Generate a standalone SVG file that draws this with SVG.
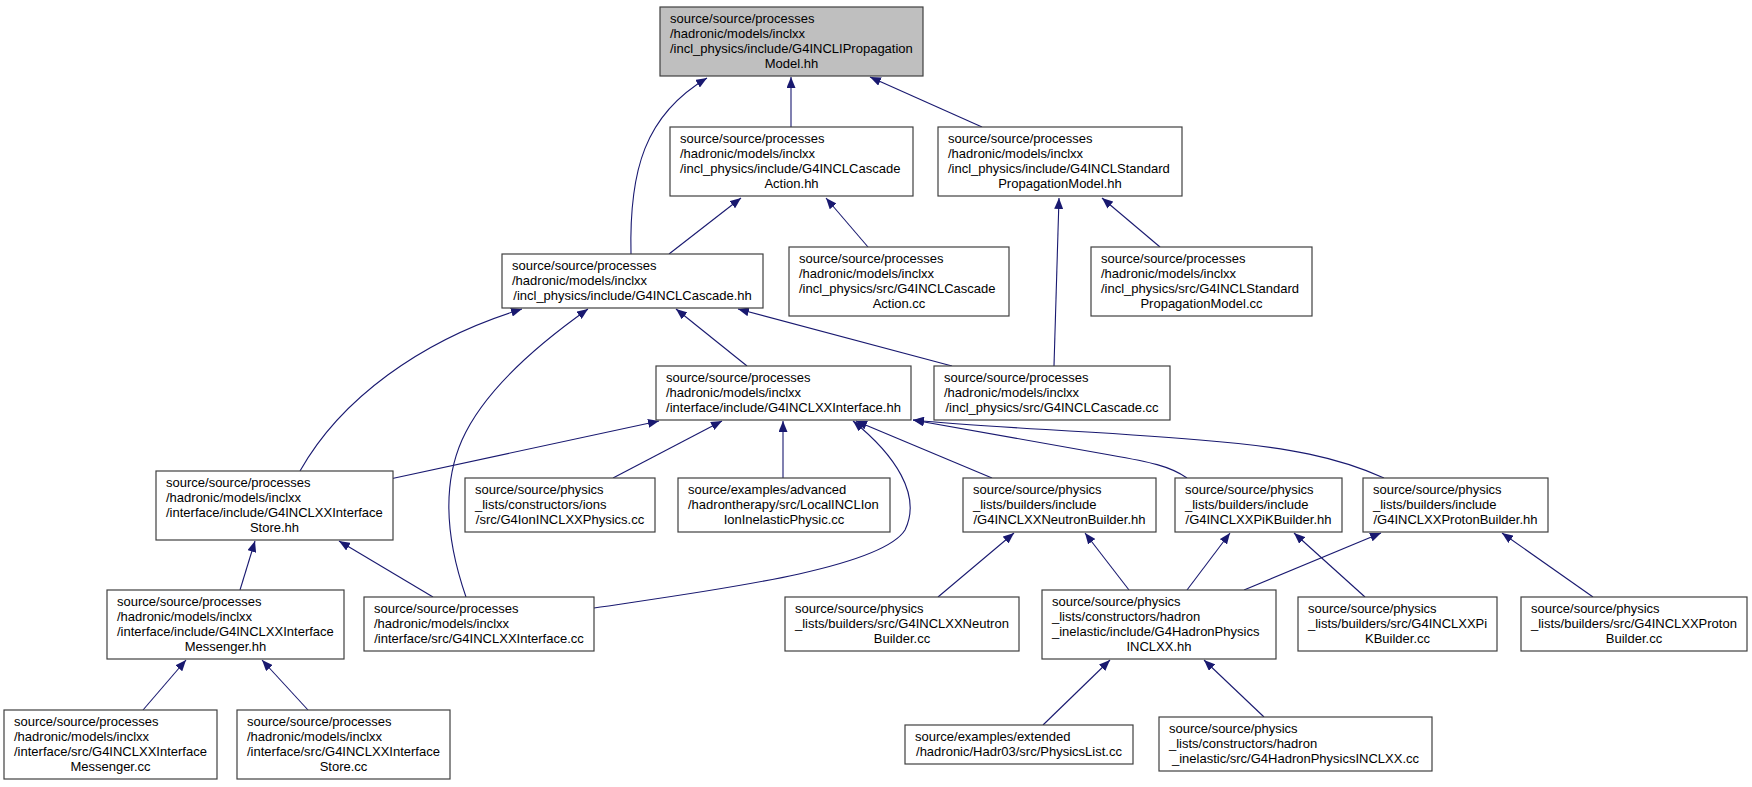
<svg xmlns="http://www.w3.org/2000/svg" width="1752" height="787" viewBox="0 0 1752 787">
<defs>
<marker id="ah" markerUnits="userSpaceOnUse" markerWidth="11" markerHeight="9" refX="11" refY="4.5" orient="auto"><path d="M0,0 L11,4.5 L0,9 z" fill="#191970"/></marker>
<style>
.n rect{fill:#ffffff;stroke:#404040;stroke-width:1.2}
.n.root rect{fill:#bfbfbf}
.n text{font-family:"Liberation Sans",Arial,sans-serif;font-size:13px;fill:#000}
.n text.c{text-anchor:middle}
#edges path{fill:none;stroke:#191970;stroke-width:1.1;marker-end:url(#ah)}
</style>
</defs>
<rect width="1752" height="787" fill="#ffffff"/>
<g id="edges">
<path d="M631,254 C629,170 645,115 707,78"/>
<path d="M791,127 L791,77"/>
<path d="M982,127 L870,77"/>
<path d="M669,254 L741,198"/>
<path d="M868,247 L826,198"/>
<path d="M1054,366 L1059,198"/>
<path d="M1160,247 L1102,198"/>
<path d="M747,366 L676,309"/>
<path d="M952,366 L738,309"/>
<path d="M300,471 C340,400 420,340 522,309"/>
<path d="M466,597 C448,545 440,490 462,440 C482,395 530,350 588,309"/>
<path d="M390,479 L659,421"/>
<path d="M613,478 L722,421"/>
<path d="M783,478 L783,421"/>
<path d="M594,608 C700,592 880,570 905,530 C922,495 895,455 853,421"/>
<path d="M992,478 L856,421"/>
<path d="M1187,478 C1170,466 1150,462 1110,455 L913,420"/>
<path d="M1384,478 C1340,458 1290,447 1200,440 C1080,430 990,428 913,420"/>
<path d="M240,590 L255,541"/>
<path d="M433,597 L339,541"/>
<path d="M938,597 L1014,533"/>
<path d="M1129,590 L1085,533"/>
<path d="M1187,590 L1230,533"/>
<path d="M1365,597 L1294,533"/>
<path d="M1244,590 L1381,533"/>
<path d="M1593,597 L1502,533"/>
<path d="M143,710 L186,660"/>
<path d="M308,710 L262,660"/>
<path d="M1043,725 L1110,660"/>
<path d="M1264,717 L1204,660"/>
</g>
<g id="n0" class="n root"><rect x="660" y="7" width="263" height="69"/>
<text x="670" y="22.5">source/source/processes</text><text x="670" y="37.5">/hadronic/models/inclxx</text><text x="670" y="52.5">/incl_physics/include/G4INCLIPropagation</text><text class="c" x="791.5" y="67.5">Model.hh</text></g>
<g id="n1" class="n"><rect x="670" y="127" width="243" height="69"/>
<text x="680" y="142.5">source/source/processes</text><text x="680" y="157.5">/hadronic/models/inclxx</text><text x="680" y="172.5">/incl_physics/include/G4INCLCascade</text><text class="c" x="791.5" y="187.5">Action.hh</text></g>
<g id="n2" class="n"><rect x="938" y="127" width="244" height="69"/>
<text x="948" y="142.5">source/source/processes</text><text x="948" y="157.5">/hadronic/models/inclxx</text><text x="948" y="172.5">/incl_physics/include/G4INCLStandard</text><text class="c" x="1060" y="187.5">PropagationModel.hh</text></g>
<g id="n3" class="n"><rect x="502" y="254" width="261" height="54"/>
<text x="512" y="269.5">source/source/processes</text><text x="512" y="284.5">/hadronic/models/inclxx</text><text class="c" x="632.5" y="299.5">/incl_physics/include/G4INCLCascade.hh</text></g>
<g id="n4" class="n"><rect x="789" y="247" width="220" height="69"/>
<text x="799" y="262.5">source/source/processes</text><text x="799" y="277.5">/hadronic/models/inclxx</text><text x="799" y="292.5">/incl_physics/src/G4INCLCascade</text><text class="c" x="899" y="307.5">Action.cc</text></g>
<g id="n5" class="n"><rect x="1091" y="247" width="221" height="69"/>
<text x="1101" y="262.5">source/source/processes</text><text x="1101" y="277.5">/hadronic/models/inclxx</text><text x="1101" y="292.5">/incl_physics/src/G4INCLStandard</text><text class="c" x="1201.5" y="307.5">PropagationModel.cc</text></g>
<g id="n6" class="n"><rect x="656" y="366" width="255" height="54"/>
<text x="666" y="381.5">source/source/processes</text><text x="666" y="396.5">/hadronic/models/inclxx</text><text class="c" x="783.5" y="411.5">/interface/include/G4INCLXXInterface.hh</text></g>
<g id="n7" class="n"><rect x="934" y="366" width="236" height="54"/>
<text x="944" y="381.5">source/source/processes</text><text x="944" y="396.5">/hadronic/models/inclxx</text><text class="c" x="1052" y="411.5">/incl_physics/src/G4INCLCascade.cc</text></g>
<g id="n8" class="n"><rect x="156" y="471" width="237" height="69"/>
<text x="166" y="486.5">source/source/processes</text><text x="166" y="501.5">/hadronic/models/inclxx</text><text x="166" y="516.5">/interface/include/G4INCLXXInterface</text><text class="c" x="274.5" y="531.5">Store.hh</text></g>
<g id="n9" class="n"><rect x="465" y="478" width="190" height="54"/>
<text x="475" y="493.5">source/source/physics</text><text x="475" y="508.5">_lists/constructors/ions</text><text class="c" x="560" y="523.5">/src/G4IonINCLXXPhysics.cc</text></g>
<g id="n10" class="n"><rect x="678" y="478" width="212" height="54"/>
<text x="688" y="493.5">source/examples/advanced</text><text x="688" y="508.5">/hadrontherapy/src/LocalINCLIon</text><text class="c" x="784" y="523.5">IonInelasticPhysic.cc</text></g>
<g id="n11" class="n"><rect x="963" y="478" width="193" height="54"/>
<text x="973" y="493.5">source/source/physics</text><text x="973" y="508.5">_lists/builders/include</text><text class="c" x="1059.5" y="523.5">/G4INCLXXNeutronBuilder.hh</text></g>
<g id="n12" class="n"><rect x="1175" y="478" width="167" height="54"/>
<text x="1185" y="493.5">source/source/physics</text><text x="1185" y="508.5">_lists/builders/include</text><text class="c" x="1258.5" y="523.5">/G4INCLXXPiKBuilder.hh</text></g>
<g id="n13" class="n"><rect x="1363" y="478" width="185" height="54"/>
<text x="1373" y="493.5">source/source/physics</text><text x="1373" y="508.5">_lists/builders/include</text><text class="c" x="1455.5" y="523.5">/G4INCLXXProtonBuilder.hh</text></g>
<g id="n14" class="n"><rect x="107" y="590" width="237" height="69"/>
<text x="117" y="605.5">source/source/processes</text><text x="117" y="620.5">/hadronic/models/inclxx</text><text x="117" y="635.5">/interface/include/G4INCLXXInterface</text><text class="c" x="225.5" y="650.5">Messenger.hh</text></g>
<g id="n15" class="n"><rect x="364" y="597" width="230" height="54"/>
<text x="374" y="612.5">source/source/processes</text><text x="374" y="627.5">/hadronic/models/inclxx</text><text class="c" x="479" y="642.5">/interface/src/G4INCLXXInterface.cc</text></g>
<g id="n16" class="n"><rect x="785" y="597" width="234" height="54"/>
<text x="795" y="612.5">source/source/physics</text><text x="795" y="627.5">_lists/builders/src/G4INCLXXNeutron</text><text class="c" x="902" y="642.5">Builder.cc</text></g>
<g id="n17" class="n"><rect x="1042" y="590" width="234" height="69"/>
<text x="1052" y="605.5">source/source/physics</text><text x="1052" y="620.5">_lists/constructors/hadron</text><text x="1052" y="635.5">_inelastic/include/G4HadronPhysics</text><text class="c" x="1159" y="650.5">INCLXX.hh</text></g>
<g id="n18" class="n"><rect x="1298" y="597" width="199" height="54"/>
<text x="1308" y="612.5">source/source/physics</text><text x="1308" y="627.5">_lists/builders/src/G4INCLXXPi</text><text class="c" x="1397.5" y="642.5">KBuilder.cc</text></g>
<g id="n19" class="n"><rect x="1521" y="597" width="226" height="54"/>
<text x="1531" y="612.5">source/source/physics</text><text x="1531" y="627.5">_lists/builders/src/G4INCLXXProton</text><text class="c" x="1634" y="642.5">Builder.cc</text></g>
<g id="n20" class="n"><rect x="4" y="710" width="213" height="69"/>
<text x="14" y="725.5">source/source/processes</text><text x="14" y="740.5">/hadronic/models/inclxx</text><text x="14" y="755.5">/interface/src/G4INCLXXInterface</text><text class="c" x="110.5" y="770.5">Messenger.cc</text></g>
<g id="n21" class="n"><rect x="237" y="710" width="213" height="69"/>
<text x="247" y="725.5">source/source/processes</text><text x="247" y="740.5">/hadronic/models/inclxx</text><text x="247" y="755.5">/interface/src/G4INCLXXInterface</text><text class="c" x="343.5" y="770.5">Store.cc</text></g>
<g id="n22" class="n"><rect x="905" y="725" width="228" height="39"/>
<text x="915" y="740.5">source/examples/extended</text><text class="c" x="1019" y="755.5">/hadronic/Hadr03/src/PhysicsList.cc</text></g>
<g id="n23" class="n"><rect x="1159" y="717" width="273" height="54"/>
<text x="1169" y="732.5">source/source/physics</text><text x="1169" y="747.5">_lists/constructors/hadron</text><text class="c" x="1295.5" y="762.5">_inelastic/src/G4HadronPhysicsINCLXX.cc</text></g>
</svg>
